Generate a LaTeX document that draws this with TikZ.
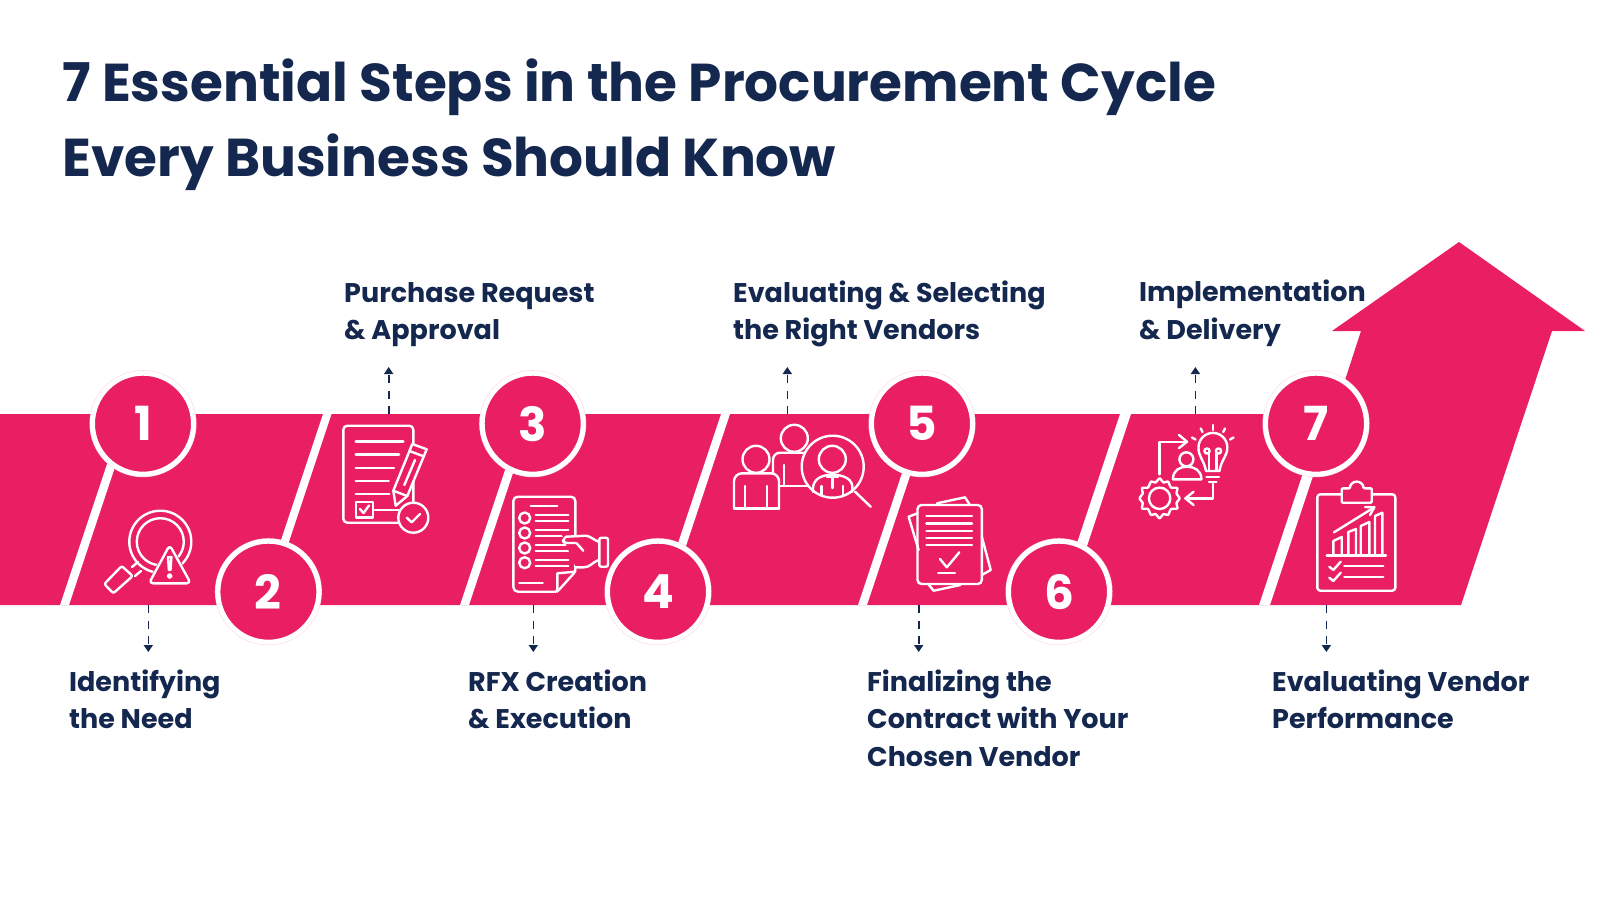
\documentclass[tikz,border=0pt]{standalone}
\usepackage{fontspec}
\setmainfont{Poppins}
\usetikzlibrary{arrows.meta}
\definecolor{rosered}{RGB}{233, 30, 99}
\definecolor{deepnavy}{RGB}{20, 39, 78}
\tikzset{
  stepcircle/.style={circle, draw=white, fill=rosered, line width=5pt, minimum size=101pt, inner sep=0pt,
    text=white, font=\fontsize{47}{47}\selectfont\bfseries,
    preaction={draw=rosered!20, line width=6pt}},
  steplabel/.style={anchor=north west, align=left, inner sep=0pt, text=deepnavy,
    font=\fontsize{27}{37.6}\selectfont\bfseries},
  titlelabel/.style={anchor=north west, align=left, inner sep=0pt, text=deepnavy,
    font=\fontsize{53.3}{75}\selectfont\bfseries},
  dasharrow/.style={deepnavy, line width=1.6pt, dash pattern=on 8pt off 7.5pt, -{Triangle[width=9pt,length=7pt]}},
  iconline/.style={white, line width=2.4pt, line cap=round, line join=round},
  iconfill/.style={iconline, fill=rosered}
}
\begin{document}
\begin{tikzpicture}[x=1pt, y=-1pt]
  \useasboundingbox (0,0) rectangle (1600,900);
  \fill[white] (0,0) rectangle (1600,900);

  % title
  \node[titlelabel] (title) at (62,58.5) {7 Essential Steps in the Procurement Cycle\\Every Business Should Know};

  % band and arrow
  \fill[rosered] (0,414) -- (1334,414) -- (1361,331) -- (1332,331) -- (1459,242) -- (1585,331)
    -- (1552,331) -- (1461,605) -- (0,605) -- cycle;

  % slanted gaps
  \foreach \xa/\wa in {60/9, 460/9, 858/9, 1259/11}
    \fill[white] (\xa,605) -- ++(\wa,0) -- ++(50,-150) -- ++(-\wa,0) -- cycle;
  \foreach \xa/\wa in {323/8.5, 721/9, 1120/11}
    \fill[white] (\xa,414) -- ++(\wa,0) -- ++(-50,150) -- ++(-\wa,0) -- cycle;

  % dashed connectors
  \foreach \name/\xa/\ya/\yb in {a/148.3/605/652, b/388.7/414/367, c/533.3/605/652, d/787.3/414/367,
                                 e/918.7/605/652, f/1195.4/414/367, g/1326.4/605/652} {
    \coordinate (\name from) at (\xa,\ya);
    \coordinate (\name to) at (\xa,\yb);
    \draw[dasharrow] (\name from) -- (\name to);
  }

  % step circles
  \node[stepcircle] (step1) at (143,423.7) {1};
  \node[stepcircle] (step2) at (268.4,591.7) {2};
  \node[stepcircle] (step3) at (532.7,423.7) {3};
  \node[stepcircle] (step4) at (658,591.7) {4};
  \node[stepcircle] (step5) at (922,423.7) {5};
  \node[stepcircle] (step6) at (1059,591.7) {6};
  \node[stepcircle] (step7) at (1316,423.7) {7};

  % step labels
  \node[steplabel] (label1) at (69,669.5) {Identifying\\the Need};
  \node[steplabel] (label2) at (344,282) {Purchase Request\\\& Approval};
  \node[steplabel] (label3) at (468,669.5) {RFX Creation\\\& Execution};
  \node[steplabel] (label4) at (733,280.5) {Evaluating \& Selecting\\the Right Vendors};
  \node[steplabel] (label5) at (867,669.5) {Finalizing the\\Contract with Your\\Chosen Vendor};
  \node[steplabel] (label6) at (1139,280) {Implementation\\\& Delivery};
  \node[steplabel] (label7) at (1272,669.5) {Evaluating Vendor\\Performance};

  % icon 1: magnifier and warning
  \draw[iconline] (160.3,541.7) circle (31);
  \draw[iconline] (160.3,541.7) circle (23.5);
  \draw[iconline] (132,567) -- (138,562);
  \draw[iconline] (141,571) -- (135,576);
  \draw[iconline, rounded corners=2pt] (104.3,584) -- (113.3,593.3) -- (132.7,576) -- (121.7,566) -- cycle;
  \draw[rosered, fill=rosered, line width=7pt, line join=round] (169.7,549) -- (152,581.5) -- (188,581.5) -- cycle;
  \draw[iconline, rounded corners=4pt] (169.7,545) -- (149,583.3) -- (190.7,583.3) -- cycle;
  \draw[iconline] (168,557) -- (171.4,557) -- (170.5,570) -- (168.9,570) -- cycle;
  \draw[iconline] (169.7,576) circle (1.8);

  % icon 2: request form with pencil
  \draw[iconline, rounded corners=4pt] (343.3,425.7) rectangle (413.3,522.7);
  \foreach \ya/\xb in {441.3/403.3, 454.3/399, 467.7/394, 480.7/388.7, 493.7/389.3}
    \draw[iconline] (355.7,\ya) -- (\xb,\ya);
  \draw[iconline] (355.7,501.7) rectangle (372.7,517.3);
  \draw[iconline] (360,509) -- (363.5,513) -- (369,505.5);
  \draw[iconline] (375,509.7) -- (399,509.7);
  \draw[iconfill] (395.7,505.7) -- (393.3,490.7) -- (412.3,444) -- (426.7,449.3) -- (407.3,496) -- cycle;
  \draw[iconline] (393.3,490.7) -- (407.3,496);
  \draw[iconline] (409.5,451) -- (424,456.5);
  \draw[iconline] (415,460) -- (404.3,485);
  \draw[iconfill] (413.3,517.7) circle (15);
  \draw[iconline] (406.7,517.7) -- (411.7,522.3) -- (420,514);

  % icon 3: checklist and hand
  \draw[iconline, rounded corners=2pt] (557.3,591.7) -- (516,591.7) -- (513.3,589) -- (513.3,499) -- (516,496.7) -- (573,496.7) -- (575.3,499) -- (575.3,571.7) -- cycle;
  \draw[iconline] (557.3,591.7) -- (557.3,573.3) -- (575.3,571.7);
  \draw[iconline] (530.7,506) -- (557.3,506);
  \draw[iconline] (519.3,582.7) -- (542.7,582.7);
  \foreach \ya in {518,533,548,562.7} {
    \draw[iconline] (524.7,\ya) circle (5.5);
    \draw[iconline] (535.7,\ya-3) -- (568.3,\ya-3);
    \draw[iconline] (535.7,\ya+3) -- (568.3,\ya+3);
  }
  \fill[rosered] (562,535) -- (599,535) -- (599,566) -- (576.5,569) -- cycle;
  \draw[iconline, rounded corners=2pt] (599.3,537.7) rectangle (608,566.7);
  \draw[iconline] (566,536.7) -- (586,535.7) .. controls (590,536) and (594,540) .. (598.5,541.7);
  \draw[iconline] (598.5,560) .. controls (593,562) and (590,567.3) .. (584,567.3) -- (575.3,567.3);
  \draw[iconline, rounded corners=3pt] (576,543) -- (564,543) -- (562.7,540) -- (566,536.7);
  \draw[iconline] (576.7,543.3) -- (583.3,550.7);

  % icon 4: people and magnifier
  \draw[iconline] (756,459.3) circle (13.5);
  \draw[iconline, rounded corners=8pt] (734,508.3) -- (734,473.3) -- (779,473.3) -- (779,508.3);
  \draw[iconline] (734,508.3) -- (779,508.3);
  \draw[iconline] (745,486) -- (745,508.3);
  \draw[iconline] (766.7,486) -- (766.7,508.3);
  \draw[iconline] (794.3,438.3) circle (13.5);
  \draw[iconline, rounded corners=7pt] (773,473) -- (773,452.7) -- (803,452.7);
  \draw[iconline] (780,486) -- (808,486);
  \draw[iconline] (784,465) -- (784,486);
  \draw[iconfill] (832.7,466.7) circle (31);
  \draw[iconline] (832.3,459.3) circle (13.5);
  \draw[iconline, rounded corners=6pt] (813,492) -- (813,482) -- (823,475) -- (842,475) -- (853,482) -- (852,492);
  \draw[iconline] (827,477) -- (838,477);
  \draw[iconline] (832.5,477) -- (832.5,488);
  \draw[iconline] (821.5,486) -- (821.5,495);
  \draw[iconline] (843,486) -- (843,495);
  \draw[iconline] (855,491.7) -- (870.7,506.7);

  % icon 5: contract sheets
  \draw[iconline] (917.5,513.3) -- (908.6,516.7) -- (918.6,550);
  \draw[iconline] (937,503.3) -- (965,497.3) -- (969.3,504);
  \draw[iconline] (981.8,536.7) -- (990.7,570) -- (981.8,575);
  \draw[iconline] (928.2,584) -- (933.6,590.7) -- (960.4,585);
  \draw[iconline, rounded corners=4pt] (917.5,505) rectangle (981.8,584);
  \foreach \ya in {516,523.3,530.7,537.7,545}
    \draw[iconline] (926.4,\ya) -- (972,\ya);
  \draw[iconline] (940,559) -- (946.8,567.3) -- (959.3,552.3);
  \draw[iconline] (938.2,572.7) -- (955,572.7);

  % icon 6: gear, person and bulb
  \draw[iconline] plot[smooth cycle, tension=0.3] coordinates {
    (1179.6,498.3) (1176.5,503) (1177.3,508.5) (1171,509) (1168,515) (1163.5,514) (1159.6,518.3) (1155.5,514)
    (1151,515) (1148,509) (1142,508.5) (1142.7,503) (1139.6,498.3) (1142.7,493.5) (1142,488) (1148,487.5)
    (1151,481.5) (1155.5,482.5) (1159.6,478.3) (1163.5,482.5) (1168,481.5) (1171,487.5) (1177.3,488) (1176.5,493.5)};
  \draw[iconline] (1159.6,498.3) circle (10.7);
  \draw[iconline] (1159.6,474.3) -- (1159.6,441.7) -- (1187,441.7);
  \draw[iconline] (1179,435) -- (1187,441.7) -- (1179,448);
  \draw[iconline] (1186.4,459.3) circle (7);
  \draw[iconline] (1172.9,479.3) .. controls (1172.9,470) and (1180,466.7) .. (1187,466.7) .. controls (1194,466.7) and (1201.4,470) .. (1201.4,479.3) -- cycle;
  \draw[iconfill] (1206,471) .. controls (1204,460) and (1198,456) .. (1198.5,447.3) arc (180:360:14.4) .. controls (1227.5,456) and (1221,460) .. (1219.5,471) -- cycle;
  \draw[iconline] (1206.5,477) -- (1219,477);
  \draw[iconline] (1209,482) -- (1216.5,482);
  \draw[iconline] (1207,451) circle (2.6);
  \draw[iconline] (1218.5,451) circle (2.6);
  \draw[iconline] (1209,453.5) -- (1209,470);
  \draw[iconline] (1216.5,453.5) -- (1216.5,470);
  \draw[iconline] (1212.9,425) -- (1212.9,430);
  \draw[iconline] (1200.7,428.5) -- (1202.5,432);
  \draw[iconline] (1225,428.5) -- (1223.2,432);
  \draw[iconline] (1192,437.5) -- (1195.5,439.5);
  \draw[iconline] (1233.5,437.5) -- (1230,439.5);
  \draw[iconline] (1212.9,483) -- (1212.9,498.3) -- (1185.4,498.3);
  \draw[iconline] (1193.6,491.7) -- (1185.4,498.3) -- (1193.6,505);

  % icon 7: clipboard with chart
  \draw[iconline, rounded corners=3pt] (1317.3,494.3) rectangle (1395.3,590.7);
  \draw[iconfill, rounded corners=1pt] (1341.7,502.7) -- (1341.7,488.3) -- (1350,488.3) arc (180:360:6.7) -- (1371.7,488.3) -- (1371.7,502.7) -- cycle;
  \draw[iconline] (1326.7,555.3) -- (1386,555.3);
  \foreach \xa/\xb/\ya/\yb in {1333.3/1341.7/541/537, 1348.3/1356/532/529, 1360.7/1369.3/526/522, 1375/1382.3/516/512.7}
    \draw[iconline] (\xa,555.3) -- (\xa,\ya) -- (\xb,\yb) -- (\xb,555.3);
  \draw[iconline] (1334,532.3) -- (1374.3,507.3);
  \draw[iconline] (1365,507) -- (1374.3,507.3) -- (1370,515);
  \foreach \ya in {0,11} {
    \draw[iconline] (1344.3,566+\ya) -- (1383.3,566+\ya);
    \draw[iconline] (1329.3,566.7+\ya) -- (1333.3,570+\ya) -- (1340.7,561.7+\ya);
  }
\end{tikzpicture}
\end{document}
